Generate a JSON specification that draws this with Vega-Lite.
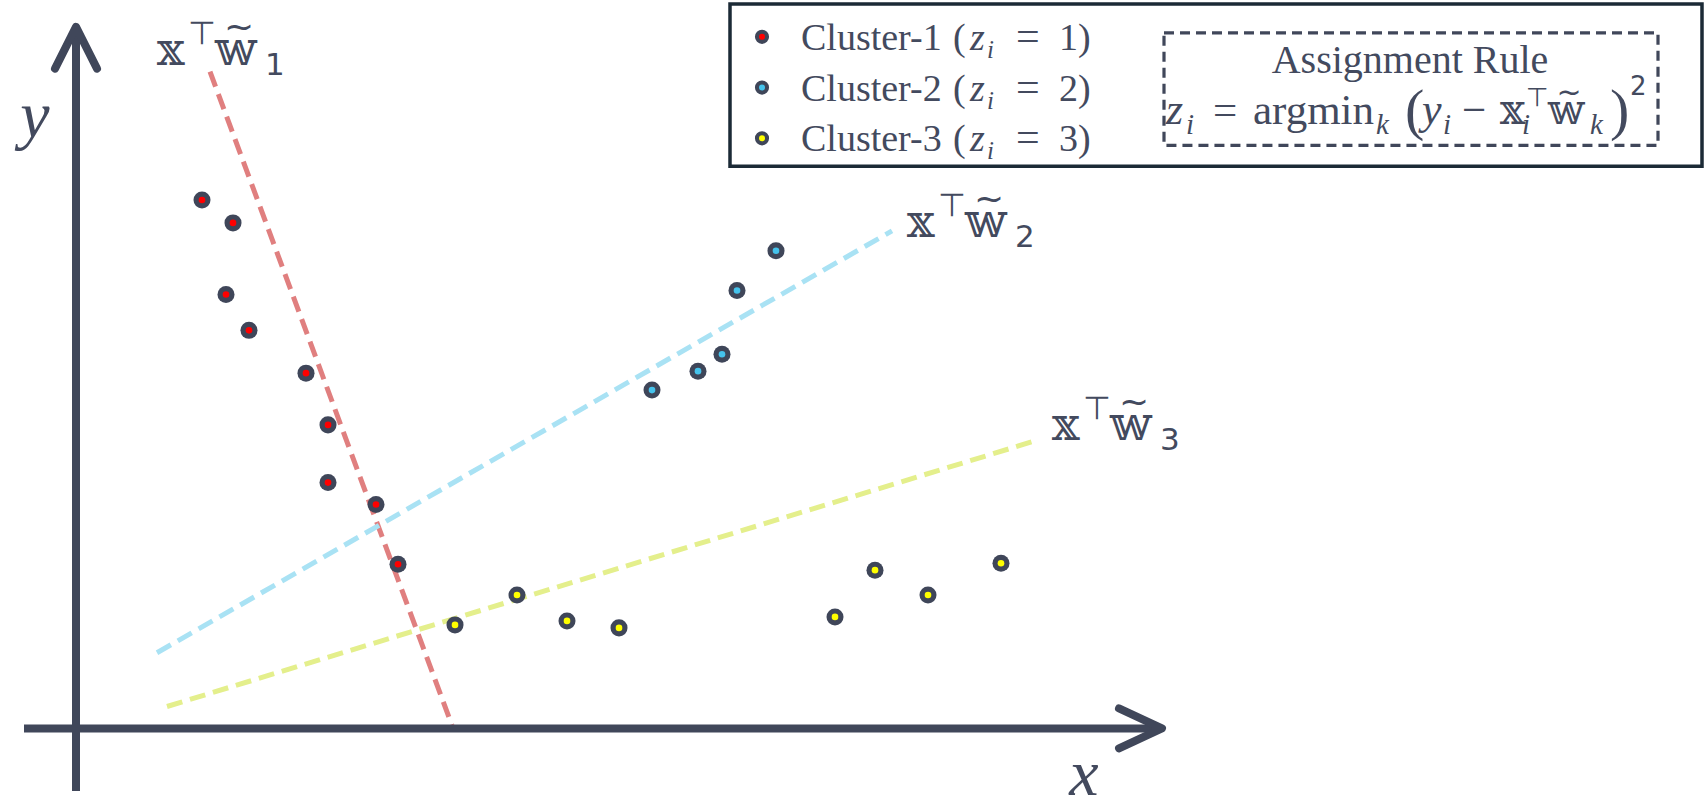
{
  "$schema": "https://vega.github.io/schema/vega-lite/v6.json",
  "width": 1704,
  "height": 808,
  "autosize": {"type": "fit", "contains": "padding"},
  "padding": 0,
  "background": "white",
  "config": {"view": {"stroke": null}},
  "datasets": {
    "pts": [
      {"c": 1, "x": 12.6, "y": 53.1}, {"c": 1, "x": 15.7, "y": 50.8}, {"c": 1, "x": 15.0, "y": 43.6},
      {"c": 1, "x": 17.3, "y": 40.0}, {"c": 1, "x": 23.0, "y": 35.7}, {"c": 1, "x": 25.2, "y": 30.5},
      {"c": 1, "x": 25.2, "y": 24.7}, {"c": 1, "x": 30.0, "y": 22.5}, {"c": 1, "x": 32.2, "y": 16.5},
      {"c": 2, "x": 57.6, "y": 34.0}, {"c": 2, "x": 62.2, "y": 35.9}, {"c": 2, "x": 64.6, "y": 37.6},
      {"c": 2, "x": 66.1, "y": 44.0}, {"c": 2, "x": 70.0, "y": 48.0},
      {"c": 3, "x": 37.9, "y": 10.4}, {"c": 3, "x": 44.1, "y": 13.4}, {"c": 3, "x": 49.1, "y": 10.8},
      {"c": 3, "x": 54.3, "y": 10.1}, {"c": 3, "x": 75.9, "y": 11.2}, {"c": 3, "x": 79.9, "y": 15.9},
      {"c": 3, "x": 85.2, "y": 13.4}, {"c": 3, "x": 92.5, "y": 16.6}
    ],
    "fits": [
      {"c": 1, "x": 13.4, "y": 66.0, "x2": 37.6, "y2": 0.3},
      {"c": 2, "x": 8.1, "y": 7.6, "x2": 81.6, "y2": 50.0},
      {"c": 3, "x": 9.1, "y": 2.2, "x2": 95.6, "y2": 28.8}
    ],
    "axes": [
      {"x": -5.2, "y": 0, "x2": 108.0, "y2": 0},
      {"x": 0, "y": -6.3, "x2": 0, "y2": 70.0}
    ],
    "heads": [
      {"a": "y", "o": 1, "x": -2.1, "y": 66.3}, {"a": "y", "o": 2, "x": 0, "y": 70.5}, {"a": "y", "o": 3, "x": 2.1, "y": 66.3},
      {"a": "x", "o": 1, "x": 104.3, "y": 2.0}, {"a": "x", "o": 2, "x": 108.6, "y": 0}, {"a": "x", "o": 3, "x": 104.3, "y": -2.0}
    ],
    "legbox": [{"x": 65.4, "y": 72.8, "x2": 162.6, "y2": 56.5}],
    "rulebox": [{"x": 108.8, "y": 69.9, "x2": 158.2, "y2": 58.6}],
    "legdots": [
      {"c": 1, "x": 68.6, "y": 69.5}, {"c": 2, "x": 68.6, "y": 64.4}, {"c": 3, "x": 68.6, "y": 59.3}
    ],
    "legtext": [
      {"name": "Cluster-1", "k": "1", "x": 72.5, "y": 68.2},
      {"name": "Cluster-2", "k": "2", "x": 72.5, "y": 63.1},
      {"name": "Cluster-3", "k": "3", "x": 72.5, "y": 58.0}
    ],
    "wlabels": [
      {"n": "1", "x": 8.1, "y": 66.7},
      {"n": "2", "x": 83.1, "y": 49.4},
      {"n": "3", "x": 97.6, "y": 29.0}
    ],
    "fnormal": [
      {"t": "=", "x": 113.7, "y": 60.7},
      {"t": "argmin", "x": 117.7, "y": 60.7},
      {"t": "−", "x": 138.6, "y": 60.7}
    ],
    "fitalic": [
      {"t": "z", "x": 109.0, "y": 60.7},
      {"t": "y", "x": 134.6, "y": 60.7}
    ],
    "fsub": [
      {"t": "i", "x": 111.0, "y": 59.7},
      {"t": "k", "x": 130.0, "y": 59.7},
      {"t": "i", "x": 136.7, "y": 59.7},
      {"t": "i", "x": 144.6, "y": 59.7},
      {"t": "k", "x": 151.4, "y": 59.7}
    ],
    "fparen": [
      {"t": "(", "x": 132.9, "y": 60.2},
      {"t": ")", "x": 153.4, "y": 60.2}
    ],
    "fds": [
      {"t": "𝕩", "x": 142.4, "y": 60.7},
      {"t": "𝕨", "x": 147.2, "y": 60.7}
    ],
    "fsup": [
      {"t": "⊤", "x": 145.0, "y": 62.5},
      {"t": "2", "x": 155.4, "y": 63.7}
    ],
    "ftilde": [
      {"t": "~", "x": 149.3, "y": 62.9}
    ],
    "titles": [
      {"t": "Assignment Rule", "x": 133.4, "y": 65.9}
    ],
    "axlabels": [
      {"t": "y", "x": -4.1, "y": 59.4},
      {"t": "x", "x": 100.8, "y": -6.7}
    ]
  },
  "encoding": {
    "x": {"field": "x", "type": "quantitative", "scale": {"domain": [-7.6, 162.8], "nice": false, "zero": false}, "axis": null},
    "y": {"field": "y", "type": "quantitative", "scale": {"domain": [-7.6, 73.2], "nice": false, "zero": false}, "axis": null}
  },
  "layer": [
    {
      "data": {"name": "fits"},
      "mark": {"type": "rule", "strokeWidth": 5, "strokeDash": [16, 8]},
      "encoding": {
        "x2": {"field": "x2"}, "y2": {"field": "y2"},
        "stroke": {"field": "c", "type": "nominal", "scale": {"domain": [1, 2, 3], "range": ["#e07f7f", "#a9e2f4", "#e4ef8c"]}, "legend": null}
      }
    },
    {
      "data": {"name": "axes"},
      "mark": {"type": "rule", "strokeWidth": 8, "color": "#40475a"},
      "encoding": {"x2": {"field": "x2"}, "y2": {"field": "y2"}}
    },
    {
      "data": {"name": "heads"},
      "mark": {"type": "line", "strokeWidth": 8, "color": "#40475a", "strokeCap": "round", "strokeJoin": "round"},
      "encoding": {"detail": {"field": "a"}, "order": {"field": "o"}}
    },
    {
      "data": {"name": "pts"},
      "mark": {"type": "circle", "size": 290, "color": "#3f4659", "opacity": 1}
    },
    {
      "data": {"name": "pts"},
      "mark": {"type": "circle", "size": 44, "opacity": 1, "strokeWidth": 0},
      "encoding": {"fill": {"field": "c", "type": "nominal", "scale": {"domain": [1, 2, 3], "range": ["#ff0000", "#45c3ec", "#ffff00"]}, "legend": null}}
    },
    {
      "data": {"name": "wlabels"},
      "mark": {"type": "text", "font": "DejaVu Serif", "fontSize": 46, "color": "#434a5e", "align": "left", "baseline": "alphabetic"},
      "encoding": {"text": {"value": "𝕩"}}
    },
    {
      "data": {"name": "wlabels"},
      "mark": {"type": "text", "font": "DejaVu Sans", "fontSize": 32, "color": "#434a5e", "align": "left", "baseline": "alphabetic", "dx": 31, "dy": -21},
      "encoding": {"text": {"value": "⊤"}}
    },
    {
      "data": {"name": "wlabels"},
      "mark": {"type": "text", "font": "DejaVu Serif", "fontSize": 48, "color": "#434a5e", "align": "left", "baseline": "alphabetic", "dx": 58},
      "encoding": {"text": {"value": "𝕨"}}
    },
    {
      "data": {"name": "wlabels"},
      "mark": {"type": "text", "font": "DejaVu Sans", "fontSize": 36, "color": "#434a5e", "align": "center", "baseline": "alphabetic", "dx": 82, "dy": -26},
      "encoding": {"text": {"value": "~"}}
    },
    {
      "data": {"name": "wlabels"},
      "mark": {"type": "text", "font": "DejaVu Sans", "fontSize": 31, "color": "#434a5e", "align": "left", "baseline": "alphabetic", "dx": 108, "dy": 10},
      "encoding": {"text": {"field": "n"}}
    },
    {
      "data": {"name": "axlabels"},
      "mark": {"type": "text", "font": "Liberation Serif", "fontStyle": "italic", "fontSize": 66, "color": "#434a5e", "align": "center", "baseline": "alphabetic"},
      "encoding": {"text": {"field": "t"}}
    },
    {
      "data": {"name": "legbox"},
      "mark": {"type": "rect", "fill": "white", "stroke": "#1b2a36", "strokeWidth": 3.5},
      "encoding": {"x2": {"field": "x2"}, "y2": {"field": "y2"}}
    },
    {
      "data": {"name": "rulebox"},
      "mark": {"type": "rect", "fill": null, "fillOpacity": 0, "stroke": "#40475a", "strokeWidth": 3.2, "strokeDash": [10, 6]},
      "encoding": {"x2": {"field": "x2"}, "y2": {"field": "y2"}}
    },
    {
      "data": {"name": "legdots"},
      "mark": {"type": "circle", "size": 200, "color": "#3f4659", "opacity": 1}
    },
    {
      "data": {"name": "legdots"},
      "mark": {"type": "circle", "size": 36, "opacity": 1, "strokeWidth": 0},
      "encoding": {"fill": {"field": "c", "type": "nominal", "legend": null}}
    },
    {
      "data": {"name": "legtext"},
      "mark": {"type": "text", "font": "Liberation Serif", "fontSize": 38, "color": "#434a5e", "align": "left", "baseline": "alphabetic"},
      "encoding": {"text": {"field": "name"}}
    },
    {
      "data": {"name": "legtext"},
      "mark": {"type": "text", "font": "Liberation Serif", "fontSize": 38, "color": "#434a5e", "align": "left", "baseline": "alphabetic", "dx": 152},
      "encoding": {"text": {"value": "("}}
    },
    {
      "data": {"name": "legtext"},
      "mark": {"type": "text", "font": "Liberation Serif", "fontStyle": "italic", "fontSize": 38, "color": "#434a5e", "align": "left", "baseline": "alphabetic", "dx": 169},
      "encoding": {"text": {"value": "z"}}
    },
    {
      "data": {"name": "legtext"},
      "mark": {"type": "text", "font": "Liberation Serif", "fontStyle": "italic", "fontSize": 25, "color": "#434a5e", "align": "left", "baseline": "alphabetic", "dx": 186, "dy": 8},
      "encoding": {"text": {"value": "i"}}
    },
    {
      "data": {"name": "legtext"},
      "mark": {"type": "text", "font": "Liberation Serif", "fontSize": 42, "color": "#434a5e", "align": "left", "baseline": "alphabetic", "dx": 215},
      "encoding": {"text": {"value": "="}}
    },
    {
      "data": {"name": "legtext"},
      "mark": {"type": "text", "font": "Liberation Serif", "fontSize": 38, "color": "#434a5e", "align": "left", "baseline": "alphabetic", "dx": 258},
      "encoding": {"text": {"field": "k"}}
    },
    {
      "data": {"name": "legtext"},
      "mark": {"type": "text", "font": "Liberation Serif", "fontSize": 38, "color": "#434a5e", "align": "left", "baseline": "alphabetic", "dx": 277},
      "encoding": {"text": {"value": ")"}}
    },
    {
      "data": {"name": "titles"},
      "mark": {"type": "text", "font": "Liberation Serif", "fontSize": 40, "color": "#434a5e", "align": "center", "baseline": "alphabetic"},
      "encoding": {"text": {"field": "t"}}
    },
    {
      "data": {"name": "fnormal"},
      "mark": {"type": "text", "font": "Liberation Serif", "fontSize": 43, "color": "#434a5e", "align": "left", "baseline": "alphabetic"},
      "encoding": {"text": {"field": "t"}}
    },
    {
      "data": {"name": "fitalic"},
      "mark": {"type": "text", "font": "Liberation Serif", "fontStyle": "italic", "fontSize": 44, "color": "#434a5e", "align": "left", "baseline": "alphabetic"},
      "encoding": {"text": {"field": "t"}}
    },
    {
      "data": {"name": "fsub"},
      "mark": {"type": "text", "font": "Liberation Serif", "fontStyle": "italic", "fontSize": 29, "color": "#434a5e", "align": "left", "baseline": "alphabetic"},
      "encoding": {"text": {"field": "t"}}
    },
    {
      "data": {"name": "fparen"},
      "mark": {"type": "text", "font": "Liberation Serif", "fontSize": 58, "color": "#434a5e", "align": "left", "baseline": "alphabetic"},
      "encoding": {"text": {"field": "t"}}
    },
    {
      "data": {"name": "fds"},
      "mark": {"type": "text", "font": "DejaVu Serif", "fontSize": 42, "color": "#434a5e", "align": "left", "baseline": "alphabetic"},
      "encoding": {"text": {"field": "t"}}
    },
    {
      "data": {"name": "fsup"},
      "mark": {"type": "text", "font": "DejaVu Sans", "fontSize": 26, "color": "#434a5e", "align": "left", "baseline": "alphabetic"},
      "encoding": {"text": {"field": "t"}}
    },
    {
      "data": {"name": "ftilde"},
      "mark": {"type": "text", "font": "DejaVu Sans", "fontSize": 30, "color": "#434a5e", "align": "center", "baseline": "alphabetic"},
      "encoding": {"text": {"field": "t"}}
    }
  ]
}
